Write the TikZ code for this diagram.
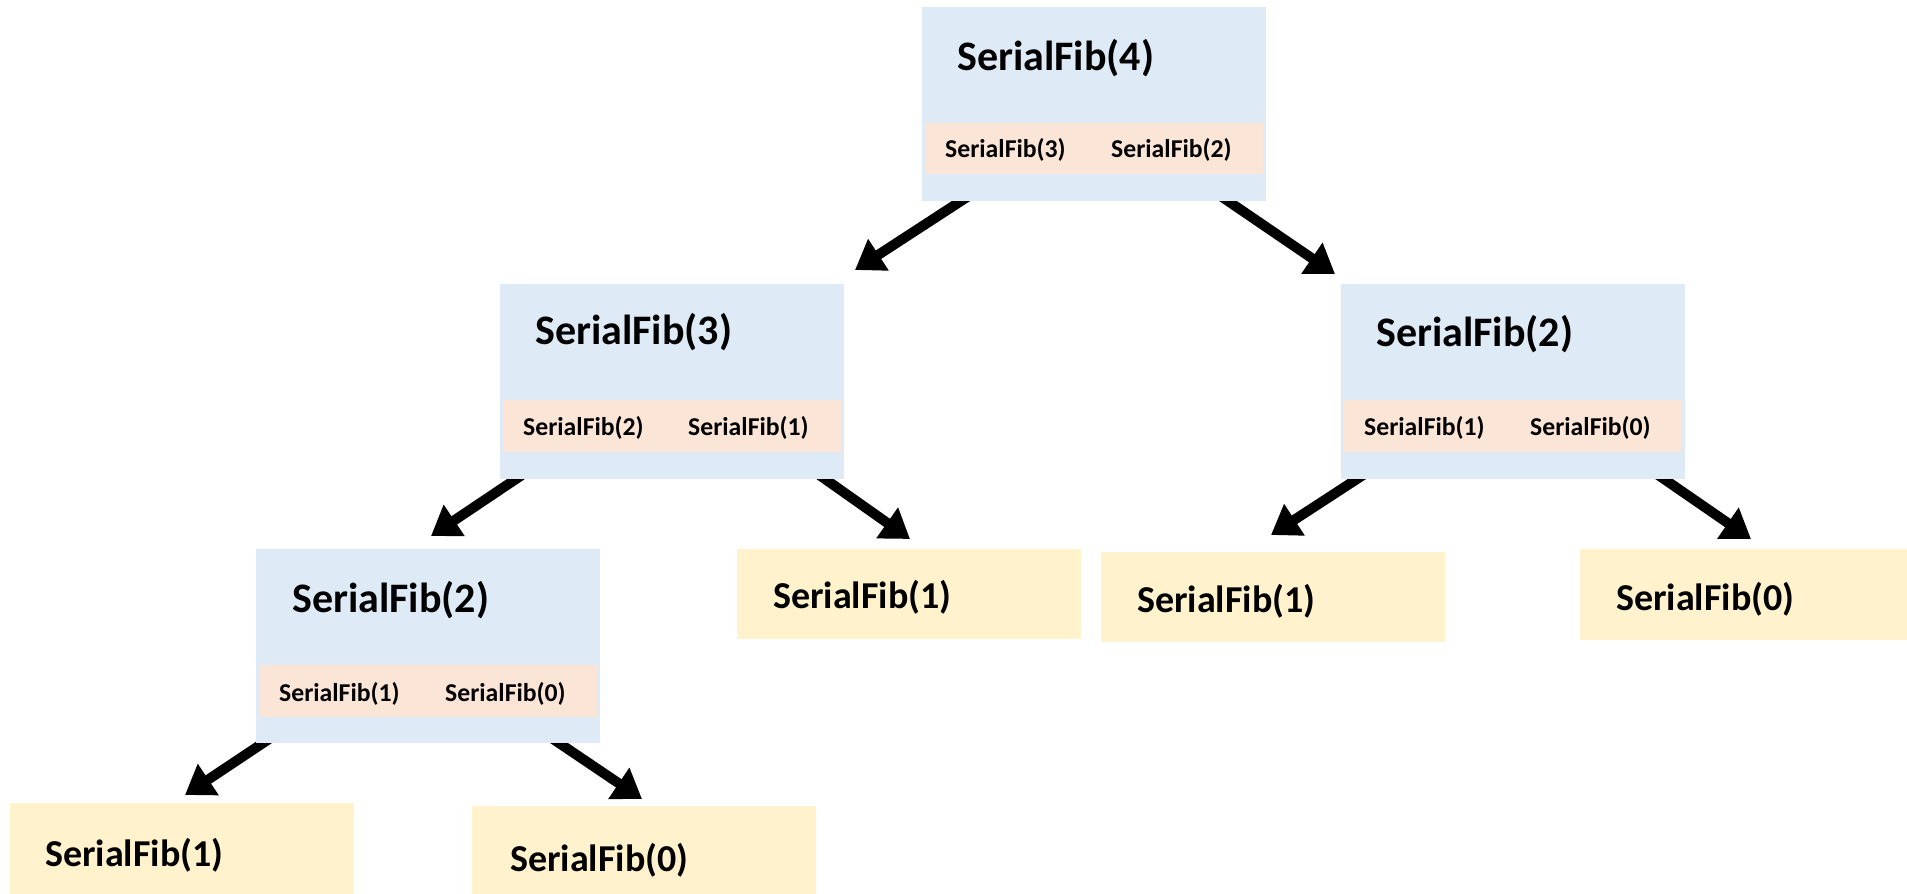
\documentclass[tikz,border=0pt]{standalone}
\usepackage{fontspec}
\setmainfont{Carlito}
\usetikzlibrary{arrows.meta,calc}
\definecolor{boxblue}{HTML}{DEEAF6}
\definecolor{boxpink}{HTML}{FBE5D6}
\definecolor{boxyellow}{HTML}{FFF2CC}
\pgfdeclarelayer{bg}
\pgfsetlayers{bg,main}
\tikzset{
  bluebox/.style={fill=boxblue, draw=none, inner sep=0pt, outer sep=0pt, anchor=north west, minimum width=344pt, minimum height=194pt},
  pinkbox/.style={fill=boxpink, draw=none, inner sep=0pt, outer sep=0pt, anchor=north west, minimum width=337pt, minimum height=52pt},
  leafbox/.style={fill=boxyellow, draw=none, inner sep=0pt, outer sep=0pt, anchor=north west, minimum width=344pt, minimum height=90pt},
  bigtxt/.style={anchor=base west, inner sep=0pt, font=\fontsize{42}{42}\selectfont\bfseries},
  leaftxt/.style={anchor=base west, inner sep=0pt, font=\fontsize{38}{38}\selectfont\bfseries},
  smalltxt/.style={anchor=base west, inner sep=0pt, font=\fontsize{25.7}{25.7}\selectfont\bfseries},
  arr/.style={line width=10pt, -{Triangle[length=28pt,width=36pt]}}
}
\begin{document}
\begin{tikzpicture}[x=1pt,y=-1pt]
\useasboundingbox (0,0) rectangle (1907,894);
% top
\node[bluebox] (T) at (922,7) {};
\node[pinkbox, minimum width=338pt, minimum height=51pt] (Tp) at (925,123) {};
\node[bigtxt] (Tt) at (957,70) {SerialFib(4)};
\node[smalltxt] (Ts1) at (945,157) {SerialFib(3)};
\node[smalltxt] (Ts2) at (1111,157) {SerialFib(2)};
% mid-left
\node[bluebox, minimum height=195pt] (A) at (500,284) {};
\node[pinkbox, minimum width=338pt] (Ap) at (503,400) {};
\node[bigtxt] (At) at (535,344) {SerialFib(3)};
\node[smalltxt] (As1) at (523,435) {SerialFib(2)};
\node[smalltxt] (As2) at (688,435) {SerialFib(1)};
% mid-right
\node[bluebox, minimum height=195pt] (B) at (1341,284) {};
\node[pinkbox] (Bp) at (1344,400) {};
\node[bigtxt] (Bt) at (1376,346) {SerialFib(2)};
\node[smalltxt] (Bs1) at (1364,435) {SerialFib(1)};
\node[smalltxt] (Bs2) at (1530,435) {SerialFib(0)};
% bottom-left
\node[bluebox] (C) at (256,549) {};
\node[pinkbox] (Cp) at (260,665) {};
\node[bigtxt] (Ct) at (292,612) {SerialFib(2)};
\node[smalltxt] (Cs1) at (279,701) {SerialFib(1)};
\node[smalltxt] (Cs2) at (445,701) {SerialFib(0)};
% leaves
\node[leafbox] (L1) at (737,549) {};
\node[leaftxt] (L1t) at (773,608) {SerialFib(1)};
\node[leafbox] (L2) at (1101,552) {};
\node[leaftxt] (L2t) at (1137,612) {SerialFib(1)};
\node[leafbox, minimum width=327pt, minimum height=91pt] (L3) at (1580,549) {};
\node[leaftxt] (L3t) at (1616,610) {SerialFib(0)};
\node[leafbox, minimum height=91pt] (L4) at (10,803) {};
\node[leaftxt] (L4t) at (45,866) {SerialFib(1)};
\node[leafbox, minimum height=88pt] (L5) at (472,806) {};
\node[leaftxt] (L5t) at (510,871) {SerialFib(0)};
% arrow tips
\coordinate (tA) at (855,270);
\coordinate (tB) at (1335,274);
\coordinate (tC) at (431,536);
\coordinate (tL1) at (910,539);
\coordinate (tL2) at (1271,535);
\coordinate (tL3) at (1751,539);
\coordinate (tL4) at (185,795);
\coordinate (tL5) at (642,799);
\begin{pgfonlayer}{bg}
\draw[arr] ($([xshift=39pt]T.south west)!-14pt!(tA)$) -- (tA);
\draw[arr] ($([xshift=-38pt]T.south east)!-14pt!(tB)$) -- (tB);
\draw[arr] ($([xshift=16pt]A.south west)!-14pt!(tC)$) -- (tC);
\draw[arr] ($([xshift=-19pt]A.south east)!-14pt!(tL1)$) -- (tL1);
\draw[arr] ($([xshift=16pt]B.south west)!-14pt!(tL2)$) -- (tL2);
\draw[arr] ($([xshift=-21pt]B.south east)!-14pt!(tL3)$) -- (tL3);
\draw[arr] ($([xshift=7pt]C.south west)!-14pt!(tL4)$) -- (tL4);
\draw[arr] ($([xshift=-41pt]C.south east)!-14pt!(tL5)$) -- (tL5);
\end{pgfonlayer}
\end{tikzpicture}
\end{document}
